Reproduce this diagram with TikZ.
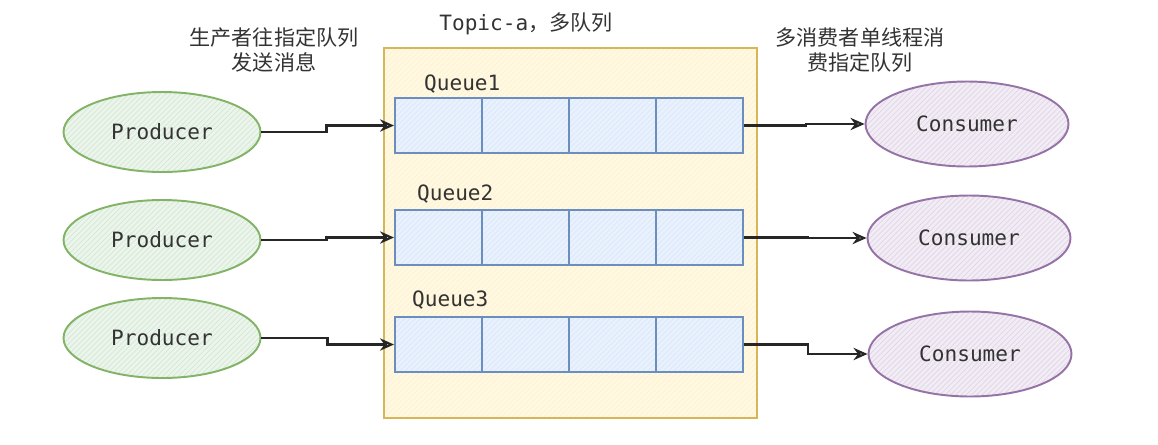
\documentclass[tikz,border=0pt]{standalone}
\usepackage{fontspec}
\usepackage{tikz}
\usetikzlibrary{shapes.geometric,arrows.meta,patterns}
\setmonofont{DejaVu Sans Mono}
\newfontfamily\cjk{Noto Sans CJK SC}
\definecolor{prodgreen}{HTML}{82B366}
\definecolor{prodfill}{HTML}{D5E8D4}
\definecolor{conspurple}{HTML}{9673A6}
\definecolor{consfill}{HTML}{E1D5E7}
\definecolor{topicyellow}{HTML}{D6B656}
\definecolor{topicfill}{HTML}{FFF2CC}
\definecolor{queueblue}{HTML}{6C8EBF}
\definecolor{queuefill}{HTML}{DAE8FC}
\definecolor{inkgray}{HTML}{333333}

\begin{document}
\begin{tikzpicture}[x=0.02cm,y=-0.02cm,
  producer/.style={ellipse,draw=prodgreen,preaction={fill=prodfill!45},line width=1.1pt,
    pattern=north east lines,pattern color=prodfill,
    minimum width=3.94cm,minimum height=1.6cm,font=\ttfamily\large,text=inkgray},
  consumer/.style={ellipse,draw=conspurple,preaction={fill=consfill!45},line width=1.1pt,
    pattern=north east lines,pattern color=consfill,
    minimum width=4.06cm,minimum height=1.7cm,font=\ttfamily\large,text=inkgray},
  cell/.style={rectangle,draw=queueblue,preaction={fill=queuefill!60},line width=1.1pt,
    pattern=north east lines,pattern color=queuefill,
    minimum width=1.74cm,minimum height=1.1cm,inner sep=0pt},
  qlabel/.style={anchor=west,font=\ttfamily\large,text=inkgray},
  note/.style={align=center,font=\cjk\large,text=inkgray},
  arr/.style={-{Stealth[open,length=8pt,width=7pt]},line width=1.2pt,draw=black!85}]

  \useasboundingbox (0,0) rectangle (1158,444);

  % topic box
  \node[rectangle,draw=topicyellow,preaction={fill=topicfill!55},line width=1.1pt,
    pattern=north east lines,pattern color=topicfill,
    minimum width=7.46cm,minimum height=7.4cm] (topic) at (570.5,233) {};
  \node[text=inkgray,font=\large] (title) at (526,24) {\ttfamily Topic-a{\cjk ，多队列}};

  \node[note] (pnote) at (274,50) {生产者往指定队列\\发送消息};
  \node[note] (cnote) at (860,50) {多消费者单线程消\\费指定队列};

  % producers
  \node[producer] (p1) at (162,132) {Producer};
  \node[producer] (p2) at (162,240) {Producer};
  \node[producer] (p3) at (162,338) {Producer};

  % queues
  \node[qlabel] (l1) at (418,84) {Queue1};
  \node[cell] (q1a) at (438.5,125.5) {};
  \node[cell] (q1b) at (525.5,125.5) {};
  \node[cell] (q1c) at (612.5,125.5) {};
  \node[cell] (q1d) at (699.5,125.5) {};

  \node[qlabel] (l2) at (411,194) {Queue2};
  \node[cell] (q2a) at (438.5,237.5) {};
  \node[cell] (q2b) at (525.5,237.5) {};
  \node[cell] (q2c) at (612.5,237.5) {};
  \node[cell] (q2d) at (699.5,237.5) {};

  \node[qlabel] (l3) at (406,300) {Queue3};
  \node[cell] (q3a) at (438.5,344.5) {};
  \node[cell] (q3b) at (525.5,344.5) {};
  \node[cell] (q3c) at (612.5,344.5) {};
  \node[cell] (q3d) at (699.5,344.5) {};

  % consumers
  \node[consumer] (c1) at (967,124) {Consumer};
  \node[consumer] (c2) at (969,238) {Consumer};
  \node[consumer] (c3) at (970,354) {Consumer};

  \draw[arr] (p1.east) -- ++(65,0) |- (q1a.west);
  \draw[arr] (p2.east) -- ++(65,0) |- (q2a.west);
  \draw[arr] (p3.east) -- ++(66,0) |- (q3a.west);

  \draw[arr] (q1d.east) -- ++(62,0) |- (c1.west);
  \draw[arr] (q2d.east) -- ++(64,0) |- (c2.west);
  \draw[arr] (q3d.east) -- ++(64,0) |- (c3.west);
\end{tikzpicture}
\end{document}
